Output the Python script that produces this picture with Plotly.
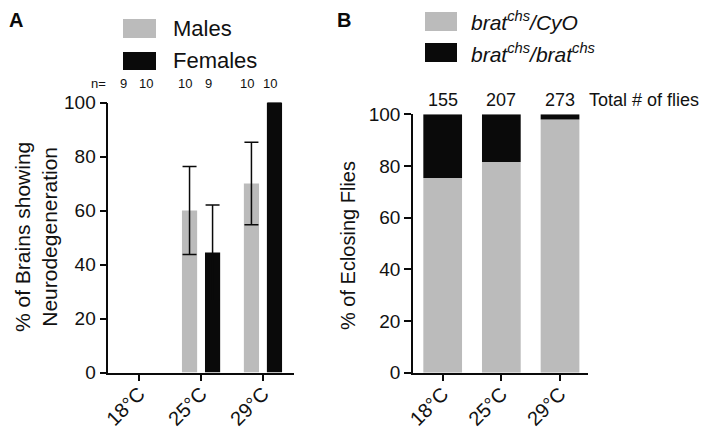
import plotly.graph_objects as go

# ---------------- data ----------------
temps = ["18°C", "25°C", "29°C"]

# Panel A: % of brains showing neurodegeneration
males_pct = [0, 60.0, 70.0]
females_pct = [0, 44.4, 100.0]
males_err = ["NaN", 16.3, 15.3]
females_err = ["NaN", 17.6, 0.0]
males_n = ["9", "10", "10"]
females_n = ["10", "9", "10"]

# Panel B: % of eclosing flies
cyo_pct = [75.3, 81.5, 98.0]
homo_pct = [24.7, 18.5, 2.0]
total_flies = ["155", "207", "273"]

# ---------------- style ----------------
GRAY = "#bbbbbb"
BLACK = "#0a0a0a"
FONT = "Liberation Sans, Arial, Helvetica, sans-serif"
OFF = 8            # page body margin offset
W, H = 714 - OFF, 429 - OFF

def px(x):
    return (x - OFF) / W

def py(y):
    return 1 - (y - OFF) / H

fig = go.Figure()

# Panel A bars
fig.add_trace(go.Bar(
    x=temps, y=males_pct, xaxis="x", yaxis="y",
    marker=dict(color=GRAY, line=dict(width=0)),
    width=0.245, offset=-0.31,
    error_y=dict(type="data", array=males_err, color=BLACK, thickness=1.5, width=7),
    showlegend=False, name="Males",
))
fig.add_trace(go.Bar(
    x=temps, y=females_pct, xaxis="x", yaxis="y",
    marker=dict(color=BLACK, line=dict(width=0)),
    width=0.245, offset=0.062,
    error_y=dict(type="data", array=females_err, color=BLACK, thickness=1.5, width=7),
    showlegend=False, name="Females",
))

# Panel B stacked bars
fig.add_trace(go.Bar(
    x=temps, y=cyo_pct, xaxis="x2", yaxis="y2",
    marker=dict(color=GRAY, line=dict(width=0)),
    width=0.66, offset=-0.33,
    showlegend=False, name="brat/CyO",
))
fig.add_trace(go.Bar(
    x=temps, y=homo_pct, base=cyo_pct, xaxis="x2", yaxis="y2",
    marker=dict(color=BLACK, line=dict(width=0)),
    width=0.66, offset=-0.33,
    showlegend=False, name="brat/brat",
))

axis_common = dict(
    showline=True, linecolor=BLACK, linewidth=1.5,
    ticks="outside", ticklen=7, tickwidth=1.5, tickcolor=BLACK,
    showgrid=False, zeroline=False, fixedrange=True, automargin=False,
    tickfont=dict(family=FONT, size=19, color="#111"),
)
xaxis_extra = dict(tickangle=-45, type="category",
                   tickfont=dict(family=FONT, size=20, color="#111"),
                   ticklabelstandoff=-7)

annotations = []

# n labels (panel A)
annotations.append(dict(text="n=", x=px(98), y=py(83), xref="paper", yref="paper",
                        showarrow=False, font=dict(family=FONT, size=13, color="#111"),
                        xanchor="center", yanchor="middle"))
for t, mn, fn in zip(temps, males_n, females_n):
    annotations.append(dict(text=mn, x=t, y=py(83), xref="x", yref="paper", xshift=-16,
                            showarrow=False, font=dict(family=FONT, size=13, color="#111"),
                            xanchor="center", yanchor="middle"))
    annotations.append(dict(text=fn, x=t, y=py(83), xref="x", yref="paper", xshift=7,
                            showarrow=False, font=dict(family=FONT, size=13, color="#111"),
                            xanchor="center", yanchor="middle"))

# totals (panel B)
for t, tot in zip(temps, total_flies):
    annotations.append(dict(text=tot, x=t, y=py(100), xref="x2", yref="paper",
                            showarrow=False, font=dict(family=FONT, size=18, color="#111"),
                            xanchor="center", yanchor="middle"))
annotations.append(dict(text="Total # of flies", x=px(587), y=py(100), xref="paper", yref="paper",
                        showarrow=False, font=dict(family=FONT, size=18, color="#111"),
                        xanchor="left", yanchor="middle"))

# axis titles
annotations.append(dict(text="% of Brains showing<br>Neurodegeneration", x=px(36), y=py(237),
                        xref="paper", yref="paper", textangle=-90, showarrow=False,
                        font=dict(family=FONT, size=21, color="#111"),
                        xanchor="center", yanchor="middle"))
annotations.append(dict(text="% of Eclosing Flies", x=px(348), y=py(246),
                        xref="paper", yref="paper", textangle=-90, showarrow=False,
                        font=dict(family=FONT, size=20, color="#111"),
                        xanchor="center", yanchor="middle"))

# panel letters
annotations.append(dict(text="<b>A</b>", x=0, y=1, xref="paper", yref="paper",
                        showarrow=False, font=dict(family=FONT, size=20, color=BLACK),
                        xanchor="left", yanchor="top", borderpad=0))
annotations.append(dict(text="<b>B</b>", x=px(336), y=1, xref="paper", yref="paper",
                        showarrow=False, font=dict(family=FONT, size=20, color=BLACK),
                        xanchor="left", yanchor="top", borderpad=0))

# legends (drawn as shapes + text)
shapes = []
legA = [("Males", GRAY, 19, 38), ("Females", BLACK, 52, 70)]
for label, col, y0, y1 in legA:
    shapes.append(dict(type="rect", xref="paper", yref="paper", x0=px(123), x1=px(156),
                       y0=py(y1), y1=py(y0), fillcolor=col, line=dict(width=0)))
    annotations.append(dict(text=label, x=px(171), y=py((y0 + y1) / 2), xref="paper", yref="paper",
                            showarrow=False, font=dict(family=FONT, size=22, color="#111"),
                            xanchor="left", yanchor="middle"))
legB = [("<i>brat<sup>chs</sup>/CyO</i>", GRAY, 12, 31),
        ("<i>brat<sup>chs</sup>/brat<sup>chs</sup></i>", BLACK, 43, 62)]
for label, col, y0, y1 in legB:
    shapes.append(dict(type="rect", xref="paper", yref="paper", x0=px(425), x1=px(457),
                       y0=py(y1), y1=py(y0), fillcolor=col, line=dict(width=0)))
    annotations.append(dict(text=label, x=px(469), y=py((y0 + y1) / 2), xref="paper", yref="paper",
                            showarrow=False, font=dict(family=FONT, size=21, color="#111"),
                            xanchor="left", yanchor="middle"))

fig.update_layout(
    width=W, height=H,
    margin=dict(l=0, r=0, t=0, b=0, pad=0),
    paper_bgcolor="white", plot_bgcolor="white",
    barmode="overlay",
    font=dict(family=FONT, color="#111"),
    xaxis=dict(axis_common, domain=[px(108.3), px(294)], range=[-0.5, 2.5],
               anchor="y", **xaxis_extra),
    yaxis=dict(axis_common, domain=[py(372.5), py(102.5)], range=[0, 100],
               tickvals=[0, 20, 40, 60, 80, 100], anchor="x"),
    xaxis2=dict(axis_common, domain=[px(413), px(588)], range=[-0.506, 2.477],
                anchor="y2", **xaxis_extra),
    yaxis2=dict(axis_common, domain=[py(372.7), py(114.3)], range=[0, 100],
                tickvals=[0, 20, 40, 60, 80, 100], anchor="x2"),
    annotations=annotations,
    shapes=shapes,
)

fig.write_html("out.html")
